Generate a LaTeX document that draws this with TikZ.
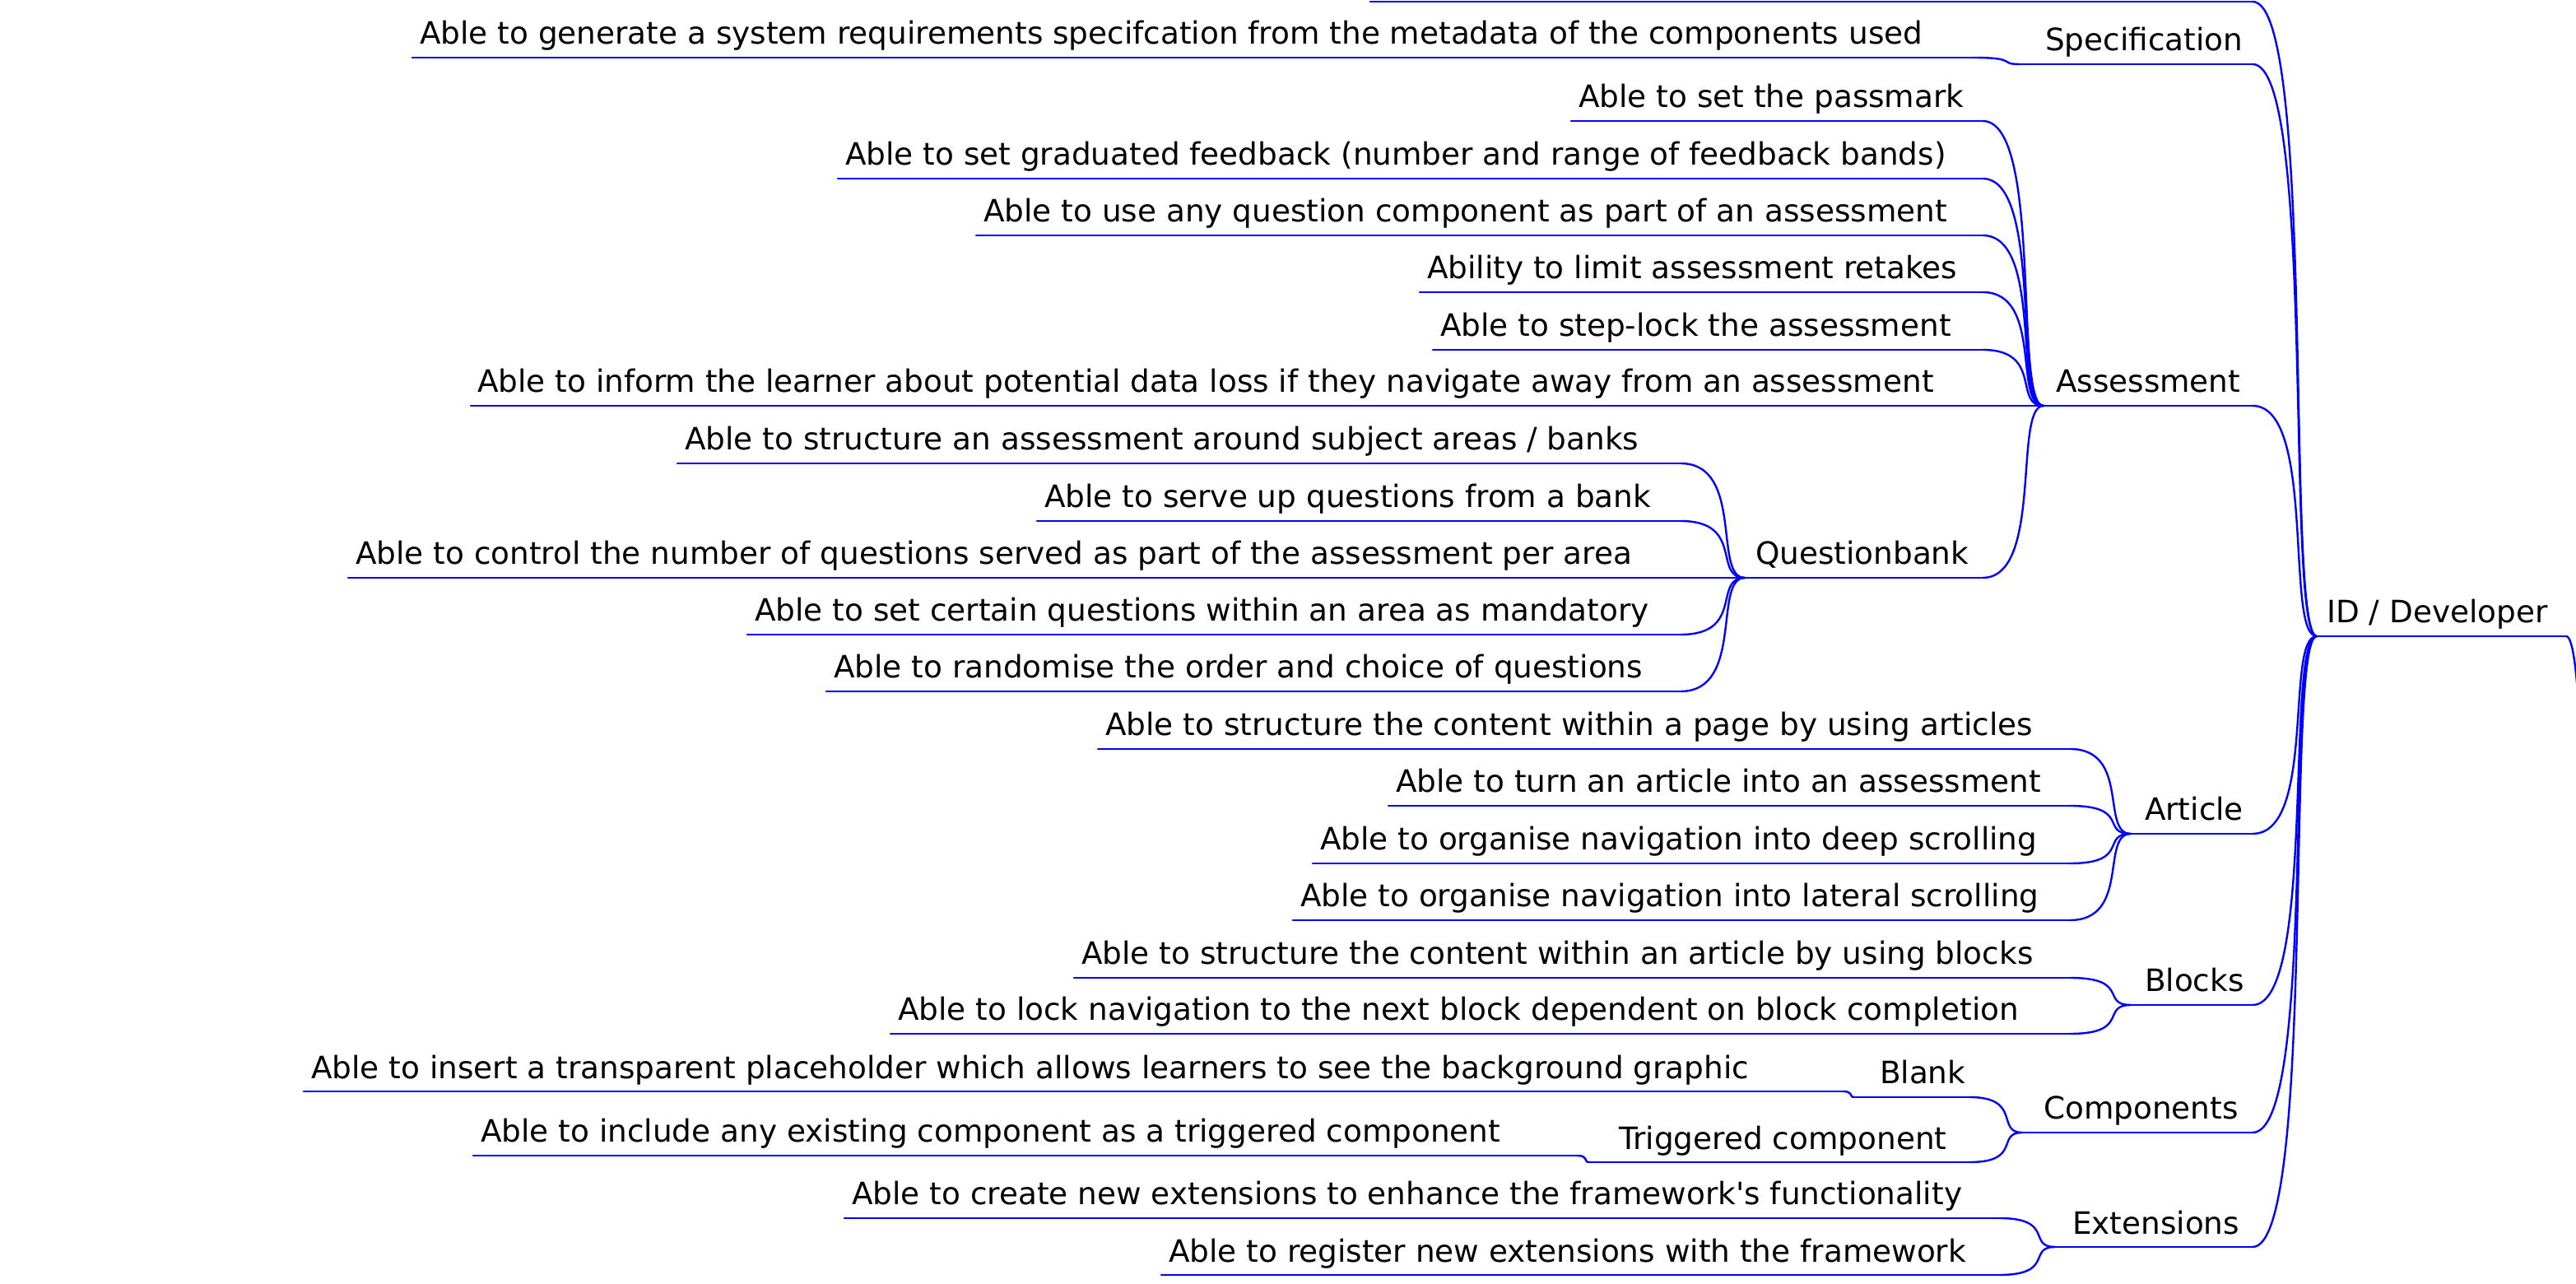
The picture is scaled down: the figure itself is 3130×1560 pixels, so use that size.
\documentclass[tikz,border=0pt]{standalone}
\usepackage{fontspec}
\setmainfont{DejaVu Sans}
\usetikzlibrary{calc}
\definecolor{mmblue}{RGB}{0,0,255}
\tikzset{
  mm/.style={anchor=south west, inner sep=0pt, outer sep=0pt, text height=7pt, text depth=4pt,
    font=\fontsize{9.35}{11}\selectfont, text=black},
  edge/.style={draw=mmblue, line width=0.6pt, line cap=round},
}
% name, left, right, underline y, text left, text
\newcommand\mmnode[6]{%
  \pgfmathsetmacro\mmw{(#3-#2)*0.25}%
  \pgfmathsetmacro\mmp{(#5-#2)*0.25}%
  \node[mm] (#1) at (#2,#4) {\makebox[\mmw pt][l]{\hspace*{\mmp pt}#6}};
  \draw[edge] (#1.south west) -- (#1.south east);}
\newcommand\mmcurve[2]{%
  \draw[edge] let \p1=(#1), \p2=(#2) in (\p1) .. controls (\x2,\y1) and ({0.5*\x1+0.5*\x2},\y2) .. (\p2);}
\newcommand\mmedge[2]{\mmcurve{#1.south east}{#2.south west}}
\begin{document}
\begin{tikzpicture}[x=0.25pt,y=-0.25pt]
\useasboundingbox (0,0) rectangle (3130,1560);
\fill[white] (0,0) rectangle (3130,1560);
\clip (0,0) rectangle (3130,1560);
% root and level 1
\mmnode{root}{2815}{3118}{773}{2827}{ID / Developer}
\coordinate (up) at (3150,1440);
\coordinate (topl) at (1665,2);
\coordinate (topr) at (2737,2);
\draw[edge] (topl) -- (topr);
\mmnode{spec}{2455}{2737}{78}{2485}{Specification}
\mmnode{assess}{2483}{2737}{493}{2498}{Assessment}
\mmnode{article}{2589}{2737}{1013}{2606}{Article}
\mmnode{blocks}{2589}{2737}{1221}{2606}{Blocks}
\mmnode{comps}{2457}{2737}{1376}{2483}{Components}
\mmnode{ext}{2497}{2737}{1515}{2518}{Extensions}
% specification
\mmnode{gen}{501}{2396}{70}{510}{Able to generate a system requirements specifcation from the metadata of the components used}
% assessment
\mmnode{a1}{1909}{2409}{147}{1918}{Able to set the passmark}
\mmnode{a2}{1018}{2409}{217}{1027}{Able to set graduated feedback (number and range of feedback bands)}
\mmnode{a3}{1186}{2409}{286}{1195}{Able to use any question component as part of an assessment}
\mmnode{a4}{1725}{2409}{355}{1734}{Ability to limit assessment retakes}
\mmnode{a5}{1741}{2409}{425}{1750}{Able to step-lock the assessment}
\mmnode{a6}{572}{2409}{493}{580}{Able to inform the learner about potential data loss if they navigate away from an assessment}
\mmnode{qb}{2120}{2409}{702}{2133}{Questionbank}
% questionbank
\mmnode{q1}{823}{2042}{563}{832}{Able to structure an assessment around subject areas / banks}
\mmnode{q2}{1260}{2042}{633}{1269}{Able to serve up questions from a bank}
\mmnode{q3}{423}{2042}{702}{432}{Able to control the number of questions served as part of the assessment per area}
\mmnode{q4}{908}{2042}{771}{917}{Able to set certain questions within an area as mandatory}
\mmnode{q5}{1004}{2042}{840}{1013}{Able to randomise the order and choice of questions}
% article
\mmnode{r1}{1334}{2515}{910}{1343}{Able to structure the content within a page by using articles}
\mmnode{r2}{1687}{2515}{979}{1696}{Able to turn an article into an assessment}
\mmnode{r3}{1595}{2515}{1049}{1604}{Able to organise navigation into deep scrolling}
\mmnode{r4}{1571}{2515}{1118}{1580}{Able to organise navigation into lateral scrolling}
% blocks
\mmnode{b1}{1305}{2515}{1188}{1314}{Able to structure the content within an article by using blocks}
\mmnode{b2}{1082}{2515}{1256}{1091}{Able to lock navigation to the next block dependent on block completion}
% components
\mmnode{blank}{2253}{2393}{1333}{2284}{Blank}
\mmnode{trig}{1931}{2393}{1412}{1967}{Triggered component}
\mmnode{ins}{369}{2239}{1326}{378}{Able to insert a transparent placeholder which allows learners to see the background graphic}
\mmnode{inc}{575}{1916}{1404}{584}{Able to include any existing component as a triggered component}
% extensions
\mmnode{e1}{1026}{2429}{1480}{1035}{Able to create new extensions to enhance the framework\textquotesingle s functionality}
\mmnode{e2}{1411}{2429}{1549}{1420}{Able to register new extensions with the framework}
% connectors
\mmcurve{root.south east}{up}
\mmcurve{topr}{root.south west}
\foreach \nd in {spec,assess,article,blocks,comps,ext} {\mmedge{\nd}{root}}
\mmedge{gen}{spec}
\foreach \nd in {a1,a2,a3,a4,a5,a6,qb} {\mmedge{\nd}{assess}}
\foreach \nd in {q1,q2,q3,q4,q5} {\mmedge{\nd}{qb}}
\foreach \nd in {r1,r2,r3,r4} {\mmedge{\nd}{article}}
\foreach \nd in {b1,b2} {\mmedge{\nd}{blocks}}
\foreach \nd in {blank,trig} {\mmedge{\nd}{comps}}
\mmedge{ins}{blank}
\mmedge{inc}{trig}
\foreach \nd in {e1,e2} {\mmedge{\nd}{ext}}
\end{tikzpicture}
\end{document}
